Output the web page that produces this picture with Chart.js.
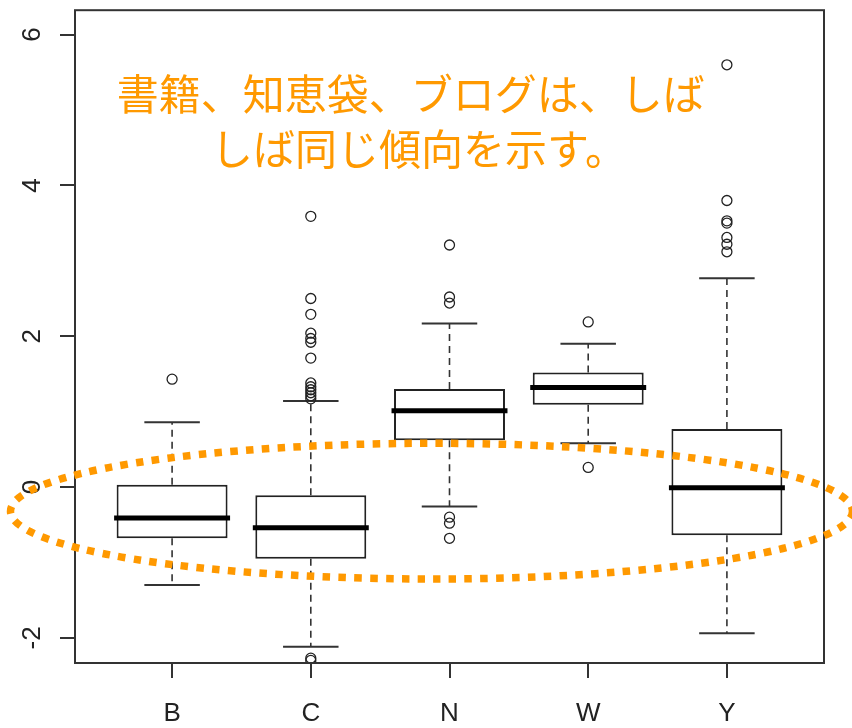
<!DOCTYPE html>
<html lang="ja">
<head>
<meta charset="utf-8">
<title>boxplot</title>
<script src="https://cdn.jsdelivr.net/npm/chart.js@4.4.1/dist/chart.umd.min.js"></script>
<style>
  html, body { margin: 0; padding: 0; background: #fff; }
  #wrap { width: 852px; height: 728px; position: relative; }
</style>
</head>
<body>
<div id="wrap"><canvas id="boxChart"></canvas></div>
<script>
// Grupos y estadísticos de cada caja
const groups = ['B', 'C', 'N', 'W', 'Y'];
const lowerWhisker  = [-1.30, -2.12, -0.26, 0.58, -1.94];
const lowerQuartile = [-0.68, -0.95, 0.62, 1.09, -0.64];
const medians       = [-0.41, -0.54, 1.01, 1.32, -0.01];
const upperQuartile = [0.03, -0.11, 1.30, 1.52, 0.77];
const upperWhisker  = [0.86, 1.14, 2.17, 1.90, 2.77];
const outliers = [
    [1.43],
    [3.59, 2.50, 2.29, 2.04, 1.97, 1.92, 1.71, 1.38, 1.33, 1.29, 1.25, 1.21, 1.17, -2.27, -2.30],
    [3.21, 2.52, 2.44, -0.40, -0.48, -0.68],
    [2.19, 0.26],
    [5.60, 3.80, 3.53, 3.50, 3.31, 3.22, 3.12]
];
const yTicks = [-2, 0, 2, 4, 6];

// Nota y elipse en unidades de los ejes
const noteLines = ['書籍、知恵袋、ブログは、しば', 'しば同じ傾向を示す。'];
const noteX = [2.72, 2.78];
const noteY = [5.21, 4.48];
const ringCenter = { x: 2.87, y: -0.32 };
const ringRadius = { x: 3.035, y: 0.90 };

const orange = '#ff9900';
const ink = '#222';

// Bigotes, topes y medianas
const boxParts = {
    id: 'boxParts',
    beforeDatasetsDraw(chart) {
        const { ctx, scales: { x, y } } = chart;
        const half = x.getPixelForValue(1.2) - x.getPixelForValue(1);
        ctx.save();
        ctx.strokeStyle = '#333';
        groups.forEach((g, i) => {
            const cx = x.getPixelForValue(i + 1);
            ctx.lineWidth = 1.6;
            ctx.setLineDash([7, 5]);
            ctx.beginPath();
            ctx.moveTo(cx, y.getPixelForValue(upperQuartile[i]));
            ctx.lineTo(cx, y.getPixelForValue(upperWhisker[i]));
            ctx.moveTo(cx, y.getPixelForValue(lowerQuartile[i]));
            ctx.lineTo(cx, y.getPixelForValue(lowerWhisker[i]));
            ctx.stroke();
            ctx.setLineDash([]);
            ctx.lineWidth = 2;
            ctx.beginPath();
            [upperWhisker[i], lowerWhisker[i]].forEach(v => {
                const py = y.getPixelForValue(v);
                ctx.moveTo(cx - half, py);
                ctx.lineTo(cx + half, py);
            });
            ctx.stroke();
        });
        ctx.restore();
    },
    afterDatasetsDraw(chart) {
        const { ctx, scales: { x, y } } = chart;
        ctx.save();
        ctx.strokeStyle = '#000';
        ctx.lineWidth = 5;
        ctx.lineCap = 'square';
        groups.forEach((g, i) => {
            const py = y.getPixelForValue(medians[i]);
            ctx.beginPath();
            ctx.moveTo(x.getPixelForValue(i + 0.6), py);
            ctx.lineTo(x.getPixelForValue(i + 1.4), py);
            ctx.stroke();
        });
        ctx.restore();
    }
};

// Marco, etiquetas verticales, elipse y texto
const decorations = {
    id: 'decorations',
    afterDraw(chart) {
        const { ctx, chartArea: a, scales: { x, y } } = chart;
        ctx.save();
        ctx.strokeStyle = '#333';
        ctx.lineWidth = 2;
        ctx.strokeRect(a.left, a.top, a.right - a.left, a.bottom - a.top);

        ctx.fillStyle = ink;
        ctx.font = '26px "Liberation Sans", Arial, sans-serif';
        ctx.textAlign = 'center';
        ctx.textBaseline = 'middle';
        yTicks.forEach(v => {
            ctx.save();
            ctx.translate(33, y.getPixelForValue(v));
            ctx.rotate(-Math.PI / 2);
            ctx.fillText(String(v), 0, 0);
            ctx.restore();
        });

        const cx = x.getPixelForValue(ringCenter.x);
        const cy = y.getPixelForValue(ringCenter.y);
        const rx = x.getPixelForValue(ringCenter.x + ringRadius.x) - cx;
        const ry = cy - y.getPixelForValue(ringCenter.y + ringRadius.y);
        ctx.strokeStyle = orange;
        ctx.lineWidth = 7.5;
        ctx.setLineDash([7.5, 8.3]);
        ctx.beginPath();
        ctx.ellipse(cx, cy, rx, ry, 0, 0, Math.PI * 2);
        ctx.stroke();
        ctx.setLineDash([]);

        ctx.fillStyle = orange;
        ctx.font = '42px "Noto Sans CJK JP", sans-serif';
        noteLines.forEach((line, i) => {
            ctx.fillText(line, x.getPixelForValue(noteX[i]), y.getPixelForValue(noteY[i]));
        });
        ctx.restore();
    }
};

const ctx = document.getElementById('boxChart').getContext('2d');
const boxChart = new Chart(ctx, {
    type: 'bar',
    data: {
        datasets: [{
            type: 'bar',
            data: groups.map((g, i) => ({ x: i + 1, y: [lowerQuartile[i], upperQuartile[i]] })),
            backgroundColor: '#fff',
            borderColor: ink,
            borderWidth: 2,
            borderSkipped: false,
            categoryPercentage: 1,
            barPercentage: 0.8
        }, {
            type: 'scatter',
            data: outliers.flatMap((vals, i) => vals.map(v => ({ x: i + 1, y: v }))),
            pointStyle: 'circle',
            pointRadius: 5,
            pointHoverRadius: 5,
            borderWidth: 1.3,
            borderColor: ink,
            backgroundColor: 'rgba(0,0,0,0)'
        }]
    },
    options: {
        responsive: true,
        maintainAspectRatio: false,
        animation: false,
        layout: { padding: { top: 8, right: 28, left: 0, bottom: 0 } },
        scales: {
            x: {
                type: 'linear',
                min: 0.3,
                max: 5.7,
                offset: false,
                afterBuildTicks: s => { s.ticks = groups.map((g, i) => ({ value: i + 1 })); },
                afterFit: s => { s.height = 65; },
                grid: { offset: false, drawOnChartArea: false, tickLength: 15, color: '#333', lineWidth: 2 },
                border: { display: false },
                ticks: {
                    callback: v => groups[v - 1],
                    font: { family: '"Liberation Sans", Arial, sans-serif', size: 26 },
                    color: ink,
                    padding: 20,
                    maxRotation: 0
                }
            },
            y: {
                min: -2.334,
                max: 6.324,
                afterBuildTicks: s => { s.ticks = yTicks.map(v => ({ value: v })); },
                afterFit: s => { s.width = 75; },
                grid: { drawOnChartArea: false, tickLength: 15, color: '#333', lineWidth: 2 },
                border: { display: false },
                ticks: { callback: () => '' }
            }
        },
        plugins: {
            legend: { display: false },
            tooltip: { enabled: false }
        }
    },
    plugins: [boxParts, decorations]
});
</script>
</body>
</html>
